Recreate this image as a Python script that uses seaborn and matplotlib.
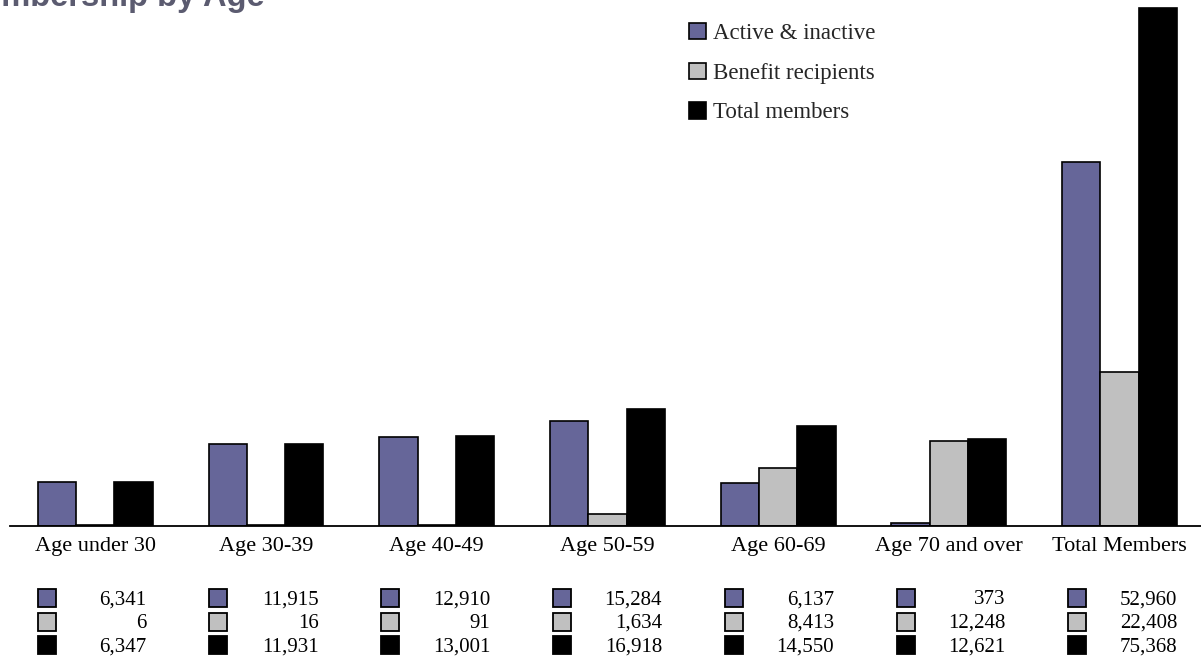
import matplotlib
matplotlib.use("Agg")
import matplotlib.pyplot as plt
import matplotlib.transforms as mtransforms
from matplotlib.patches import Patch
import seaborn as sns
import pandas as pd

# ---- data ----
categories = ["Age under 30", "Age 30-39", "Age 40-49", "Age 50-59",
              "Age 60-69", "Age 70 and over", "Total Members"]
series_names = ["Active & inactive", "Benefit recipients", "Total members"]
active_inactive = [6341, 11915, 12910, 15284, 6137, 373, 52960]
benefit_recipients = [6, 16, 91, 1634, 8413, 12248, 22408]
total_members = [6347, 11931, 13001, 16918, 14550, 12621, 75368]
colors = ["#666699", "#C0C0C0", "#000000"]

series_values = [active_inactive, benefit_recipients, total_members]
df = pd.DataFrame({
    "category": [c for _ in series_names for c in categories],
    "series": [s for s in series_names for _ in categories],
    "value": [v for vals in series_values for v in vals],
})

sns.set_theme(style="white")
plt.rcParams["font.family"] = ["Liberation Serif", "DejaVu Serif"]

W, H = 1201, 662
fig = plt.figure(figsize=(W / 100, H / 100), dpi=100)
base_px = 525.5
ax = fig.add_axes([10 / W, 1 - base_px / H, 1191 / W, base_px / H])

sns.barplot(data=df, x="category", y="value", hue="series",
            order=categories, hue_order=series_names,
            palette=colors, width=0.673, gap=0, ax=ax,
            edgecolor="black", linewidth=1.2, saturation=1, legend=False)

group_px = 170.7
ax.set_xlim(-0.5, -0.5 + 1191 / group_px)
ax.set_ylim(0, base_px * 145.7)
ax.set_xlabel("")
ax.set_ylabel("")
ax.set_yticks([])
for s in ["left", "right", "top"]:
    ax.spines[s].set_visible(False)
ax.spines["bottom"].set_color("black")
ax.spines["bottom"].set_linewidth(1.3)
ax.tick_params(axis="x", length=0, pad=8.5, labelsize=16, colors="black")

# ---- data table beneath the category labels (laid out in figure pixels) ----
row_px = [598, 621.5, 645]
col_step = 171.8
marker_x0 = 46.5
number_x0 = 146.7
for i, cat in enumerate(categories):
    for vals, col, ypx in zip(series_values, colors, row_px):
        yf = 1 - ypx / H
        fig.lines.append(plt.Line2D(
            [(marker_x0 + col_step * i) / W], [yf], marker="s", markersize=13,
            markerfacecolor=col, markeredgecolor="black", markeredgewidth=1.3,
            transform=fig.transFigure, figure=fig))
        fig.text((number_x0 + col_step * i) / W, yf - 2 / H, f"{vals[i]:,}",
                 ha="right", va="center", fontsize=15, color="black")

# ---- legend ----
handles = [Patch(facecolor=c, edgecolor="black", linewidth=1.2) for c in colors]
fig.legend(handles, series_names, loc="upper left",
           bbox_to_anchor=(689 / W, 1 - 23 / H), frameon=False,
           fontsize=16.5, handlelength=0.73, handleheight=0.73,
           handletextpad=0.3, labelspacing=0.8, borderpad=0,
           borderaxespad=0)

# ---- title ----
fig.text(265 / W, 1 - 6 / H, "Membership by Age", ha="right",
         va="baseline", fontsize=23.5, fontweight="bold",
         color="#5b5b70", family=["Liberation Sans", "DejaVu Sans"])

fig.savefig("out.png", dpi=100)
